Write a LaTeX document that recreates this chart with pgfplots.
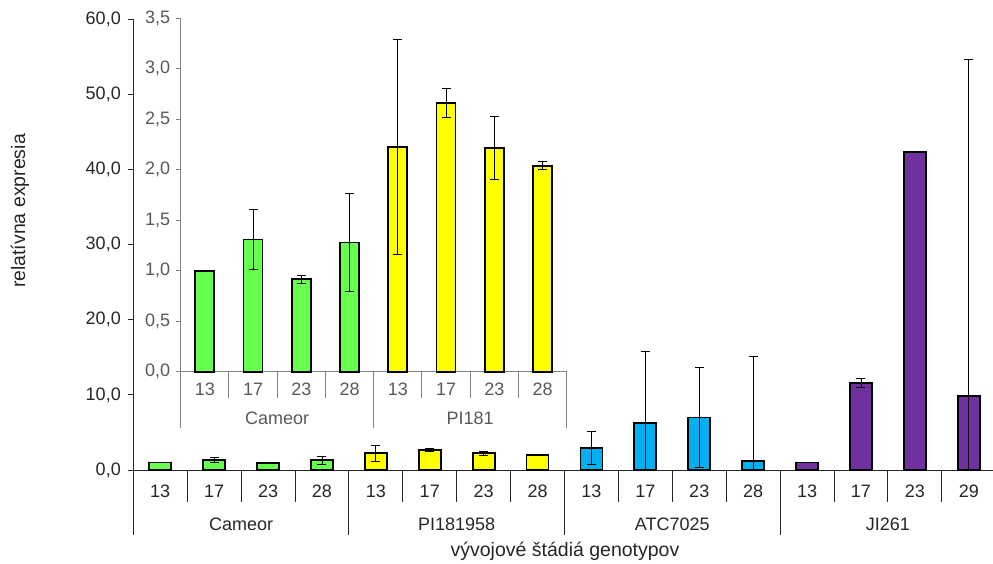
\documentclass[border=0pt]{standalone}
\usepackage{pgfplots}
\pgfplotsset{compat=1.18}
\usepackage{pgfplotstable}
\usepackage{fontspec}
\setmainfont{Liberation Sans}
\definecolor{cgreen}{HTML}{66FF4D}
\definecolor{cyellow}{HTML}{FFFF00}
\definecolor{cblue}{HTML}{00B0F0}
\definecolor{cpurple}{HTML}{7030A0}
\definecolor{txt}{HTML}{262626}
\definecolor{itxt}{HTML}{595959}
\definecolor{iax}{HTML}{808080}
\newcommand\fs{\fontsize{18}{21.6}\selectfont}
\newcommand\fl{\fontsize{19.5}{23}\selectfont}

% main chart data: x, value, error plus, error minus
\pgfplotstableread{
x y ep em
0 1.00 0 0
1 1.31 0.30 0.30
2 0.915 0.04 0.04
3 1.28 0.49 0.49
}\cameor
\pgfplotstableread{
x y ep em
4 2.225 1.065 1.065
5 2.665 0.145 0.145
6 2.215 0.31 0.31
7 2.04 0.04 0.04
}\pione
\pgfplotstableread{
x y ep em
8 2.95 2.2 2.2
9 6.28 9.5 6.28
10 6.98 6.67 6.67
11 1.22 13.9 1.22
}\atc
\pgfplotstableread{
x y ep em
12 1.0 0 0
13 11.6 0.57 0.57
14 42.3 0 0
15 9.8 44.8 9.8
}\ji
% inset data
\pgfplotstableread{
x y ep em
0 1.00 0 0
1 1.31 0.30 0.30
2 0.915 0.04 0.04
3 1.28 0.49 0.49
}\icameor
\pgfplotstableread{
x y ep em
4 2.225 1.065 1.065
5 2.665 0.145 0.145
6 2.215 0.31 0.31
7 2.04 0.04 0.04
}\ipione

\pgfplotsset{
  mybar/.style={ybar, bar width=#1, bar shift=0pt, draw=black, line width=1.8pt,
    error bars/y dir=both, error bars/y explicit,
    error bars/error bar style={line width=0.9pt, black},
    error bars/error mark options={rotate=90, line width=0.9pt, black, mark size=4.5pt}},
}

\begin{document}
\begin{tikzpicture}
\begin{axis}[
  at={(133.3pt,93pt)}, anchor=south west,
  scale only axis, width=862.4pt, height=450.7pt,
  xmin=-0.5, xmax=15.5, ymin=0, ymax=60,
  clip=false, enlargelimits=false,
  axis x line*=bottom, axis y line*=left,
  axis line style={line width=1pt, txt},
  xtick={0,...,15},
  xticklabels={13,17,23,28,13,17,23,28,13,17,23,28,13,17,23,29},
  x tick style={draw=none},
  xticklabel style={anchor=center, yshift=-16pt},
  ytick={0,10,...,60},
  yticklabels={{0,0},{10,0},{20,0},{30,0},{40,0},{50,0},{60,0}},
  tick align=outside, major tick length=5pt,
  y tick style={line width=1pt, txt},
  yticklabel style={xshift=-4pt},
  tick label style={font=\fs, text=txt},
]
\addplot[mybar=22pt, fill=cgreen] table[x=x, y=y, y error plus=ep, y error minus=em] {\cameor};
\addplot[mybar=22pt, fill=cyellow] table[x=x, y=y, y error plus=ep, y error minus=em] {\pione};
\addplot[mybar=22pt, fill=cblue] table[x=x, y=y, y error plus=ep, y error minus=em] {\atc};
\addplot[mybar=22pt, fill=cpurple] table[x=x, y=y, y error plus=ep, y error minus=em] {\ji};
\pgfplotsinvokeforeach{0.5,1.5,2.5,4.5,5.5,6.5,8.5,9.5,10.5,12.5,13.5,14.5}{
  \draw[line width=1pt, txt] (axis cs:#1,0) -- (axis cs:#1,-4.22);
}
\pgfplotsinvokeforeach{-0.5,3.5,7.5,11.5,15.5}{
  \draw[line width=1pt, txt] (axis cs:#1,0) -- (axis cs:#1,-8.65);
}
\node[font=\fs, text=txt] at (axis cs:1.5,-7.19) {Cameor};
\node[font=\fs, text=txt] at (axis cs:5.5,-7.19) {PI181958};
\node[font=\fs, text=txt] at (axis cs:9.5,-7.19) {ATC7025};
\node[font=\fs, text=txt] at (axis cs:13.5,-7.19) {JI261};
\end{axis}

\begin{axis}[
  at={(180.7pt,191.3pt)}, anchor=south west,
  scale only axis, width=386pt, height=353.4pt,
  xmin=-0.5, xmax=7.5, ymin=0, ymax=3.5,
  clip=false, enlargelimits=false,
  axis x line*=bottom, axis y line*=left,
  axis line style={line width=1pt, iax},
  xtick={0,...,7},
  xticklabels={13,17,23,28,13,17,23,28},
  x tick style={draw=none},
  xticklabel style={anchor=center, yshift=-13pt},
  ytick={0,0.5,...,3.5},
  yticklabels={{0,0},{0,5},{1,0},{1,5},{2,0},{2,5},{3,0},{3,5}},
  tick align=outside, major tick length=5pt,
  y tick style={line width=1pt, iax},
  yticklabel style={xshift=-2pt},
  tick label style={font=\fs, text=itxt},
]
\addplot[mybar=19pt, fill=cgreen] table[x=x, y=y, y error plus=ep, y error minus=em] {\icameor};
\addplot[mybar=19pt, fill=cyellow] table[x=x, y=y, y error plus=ep, y error minus=em] {\ipione};
\pgfplotsinvokeforeach{0.5,1.5,2.5,4.5,5.5,6.5}{
  \draw[line width=1pt, iax] (axis cs:#1,0) -- (axis cs:#1,-0.26);
}
\pgfplotsinvokeforeach{-0.5,3.5,7.5}{
  \draw[line width=1pt, iax] (axis cs:#1,0) -- (axis cs:#1,-0.555);
}
\node[font=\fs, text=itxt] at (axis cs:1.5,-0.46) {Cameor};
\node[font=\fs, text=itxt] at (axis cs:5.5,-0.46) {PI181};
\end{axis}

\node[font=\fl, text=txt, rotate=90] at (20pt,352pt) {relatívna expresia};
\node[font=\fl, text=txt] at (565pt,11.3pt) {vývojové štádiá genotypov};
\pgfresetboundingbox
\path[use as bounding box] (0pt,0pt) rectangle (993pt,563pt);
\end{tikzpicture}
\end{document}
